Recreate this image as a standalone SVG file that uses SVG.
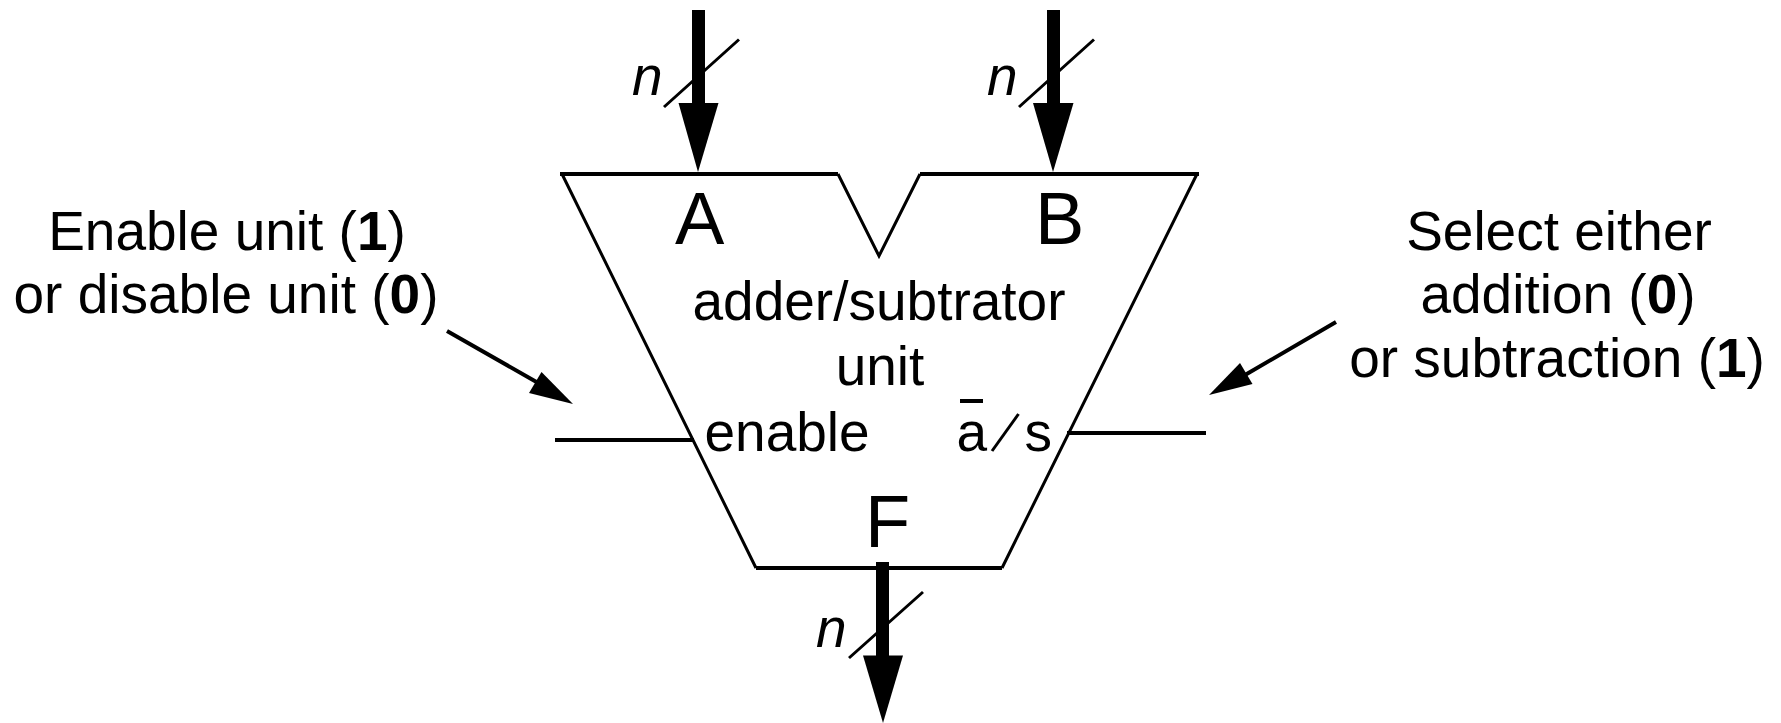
<svg xmlns="http://www.w3.org/2000/svg" width="1781" height="723" viewBox="0 0 1781 723">
<style>
text{font-family:"Liberation Sans",Arial,sans-serif;font-size:55px;fill:#000}
.c{text-anchor:middle}
.b{font-weight:bold}
.i{font-style:italic}
.big{font-size:74px}
.thin{fill:none;stroke:#000;stroke-width:3}
.med{fill:none;stroke:#000;stroke-width:4}
.bus{fill:none;stroke:#000;stroke-width:13}
.head{fill:#000}
</style>
<rect width="1781" height="723" fill="#fff"/>
<g id="unit">
<path class="thin" d="M562 174L756 568M838 174L879 256L920 174M1197 174L1002 568"/>
<path class="med" d="M560 174H838M920 174H1199M756 568H1002"/>
<text class="big" x="675" y="244">A</text>
<text class="big" x="1035" y="244">B</text>
<text class="big" x="865" y="547">F</text>
<text class="c" x="879" y="320">adder/subtrator</text>
<text class="c" x="880" y="385">unit</text>
<text x="704.500" y="451">enable</text>
<text x="956.500" y="451">a</text>
<text x="1024.500" y="451">s</text>
<path class="med" d="M960 401H983"/>
<path class="thin" d="M992 451L1018.500 414"/>
</g>
<g id="label-enable">
<text class="c" x="227" y="250">Enable unit (<tspan class="b">1</tspan>)</text>
<text class="c" x="226" y="313">or disable unit (<tspan class="b">0</tspan>)</text>
</g>
<g id="label-select">
<text class="c" x="1559" y="250">Select either</text>
<text class="c" x="1558" y="313">addition (<tspan class="b">0</tspan>)</text>
<text class="c" x="1557" y="377">or subtraction (<tspan class="b">1</tspan>)</text>
</g>
<g id="bus-width-labels">
<text class="i" x="632" y="95">n</text>
<text class="i" x="987" y="95">n</text>
<text class="i" x="816" y="647">n</text>
</g>
<g id="connectors">
<path class="bus" d="M698.500 10V104M1053.500 10V104M882.500 562V656"/>
<polygon class="head" points="678.500,103 718.500,103 698,172"/>
<polygon class="head" points="1033,103 1073.500,103 1053,172"/>
<polygon class="head" points="863,655.500 903,655.500 883,723"/>
<path class="thin" d="M664 107L739 39.500M1019 107L1094 39.500M849 658L923 592"/>
<path class="med" d="M555 440H694M1067 433H1206"/>
<path class="med" d="M447 331L540 384M1336 322L1245 375"/>
<polygon class="head" points="573,404 529,393 541.500,372"/>
<polygon class="head" points="1209,395 1240,363 1252.500,384"/>
</g>
</svg>
